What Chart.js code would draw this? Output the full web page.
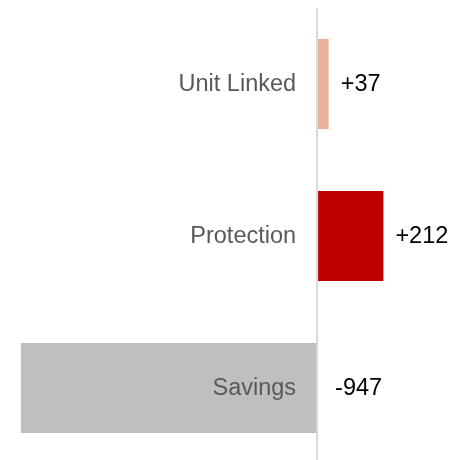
<!DOCTYPE html>
<html>
<head>
<meta charset="utf-8">
<script src="https://cdn.jsdelivr.net/npm/chart.js@4.4.1/dist/chart.umd.min.js"></script>
<style>
  html, body { margin: 0; padding: 0; background: #fff; overflow: hidden; }
  #wrap { width: 450px; height: 464px; position: relative; }
</style>
</head>
<body>
<div id="wrap"><canvas id="chart"></canvas></div>
<script>
// Data
const categories = ['Unit Linked', 'Protection', 'Savings'];
const values = [37, 212, -947];
const barColors = ['#E8B29B', '#C00000', '#BFBFBF'];

const fontFamily = 'Arial, "Liberation Sans", sans-serif';

// Format value labels with a sign
function fmt(v) {
    return (v > 0 ? '+' : '') + v;
}

// Draws the zero line, category names and value labels
const labelPlugin = {
    id: 'labelPlugin',
    afterDatasetsDraw(chart) {
        const ctx = chart.ctx;
        const xScale = chart.scales.x;
        const area = chart.chartArea;
        const zero = xScale.getPixelForValue(0);

        ctx.save();
        ctx.strokeStyle = '#D9D9D9';
        ctx.lineWidth = 2;
        ctx.beginPath();
        ctx.moveTo(zero, area.top);
        ctx.lineTo(zero, area.bottom);
        ctx.stroke();

        ctx.font = '23.5px ' + fontFamily;
        ctx.textBaseline = 'middle';
        const meta = chart.getDatasetMeta(0);
        meta.data.forEach((bar, i) => {
            const y = bar.y + 1;
            // category name, left of zero line
            ctx.fillStyle = '#595959';
            ctx.textAlign = 'right';
            ctx.fillText(categories[i], zero - 21, y);

            // value label
            ctx.fillStyle = '#000000';
            ctx.textAlign = 'left';
            const x = values[i] >= 0 ? bar.x + 12 : zero + 18;
            ctx.fillText(fmt(values[i]), x, y);
        });
        ctx.restore();
    }
};

new Chart(document.getElementById('chart'), {
    type: 'bar',
    data: {
        labels: categories,
        datasets: [{
            data: values,
            backgroundColor: barColors,
            borderWidth: 0,
            categoryPercentage: 1,
            barPercentage: 0.592
        }]
    },
    options: {
        indexAxis: 'y',
        responsive: true,
        maintainAspectRatio: false,
        animation: false,
        layout: { padding: { left: 21, top: 8, right: 0, bottom: 0 } },
        plugins: {
            legend: { display: false },
            tooltip: { enabled: false }
        },
        scales: {
            x: {
                display: false,
                min: -947,
                max: 425
            },
            y: {
                display: false
            }
        }
    },
    plugins: [labelPlugin]
});
</script>
</body>
</html>
